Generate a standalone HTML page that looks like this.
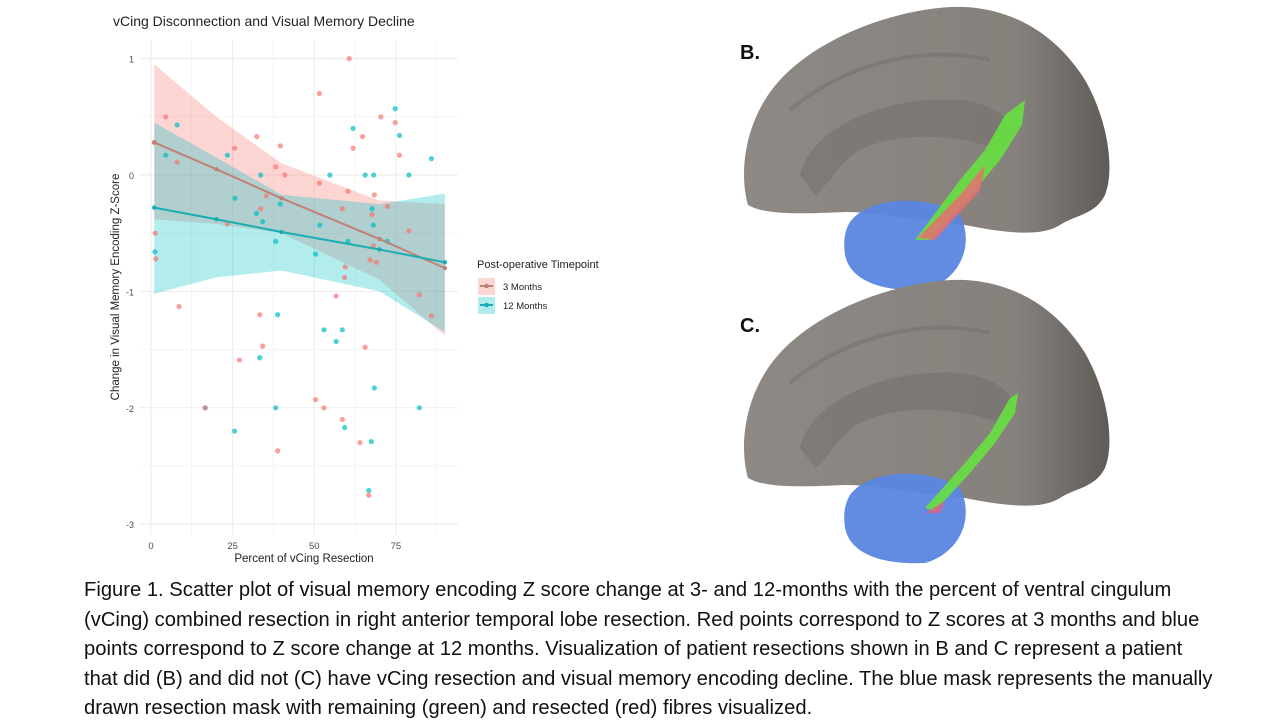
<!DOCTYPE html>
<html><head><meta charset="utf-8"><style>
body{margin:0;width:1280px;height:720px;background:#fff;overflow:hidden;font-family:"Liberation Sans",sans-serif;position:relative}
#cap{position:absolute;left:84px;top:576px;font-size:20.2px;line-height:29.5px;color:#111;white-space:nowrap}
.lab{position:absolute;font-weight:bold;font-size:20px;color:#111}
</style></head><body>
<svg width="1280" height="570" style="position:absolute;left:0;top:0">
<defs><linearGradient id="g" x1="0" x2="1" y1="0" y2="0"><stop offset="0" stop-color="#8e8984"/><stop offset="0.75" stop-color="#86817c"/><stop offset="1" stop-color="#5f5b57"/></linearGradient></defs>
<g id="brainB">
<path d="M748,205 C738,170 745,110 790,70 C840,25 920,5 965,7 C1020,10 1060,40 1085,80 C1108,120 1115,170 1105,195 C1095,215 1075,215 1060,225 C1040,238 1000,232 965,225 C920,222 880,212 845,212 C800,214 765,215 748,205Z" fill="url(#g)"/>
<path d="M800,175 C810,130 880,95 960,100 C1010,105 1030,140 1000,150 C960,135 900,130 860,150 C835,165 830,185 815,195Z" fill="#6e6a66" opacity=".45"/>
<path d="M790,110 C850,60 930,45 990,60" fill="none" stroke="#6e6a66" stroke-width="4" opacity=".4"/>
<path d="M850,222 C870,195 930,195 960,215 C975,245 960,280 925,290 C880,292 850,280 845,255 C843,240 845,230 850,222Z" fill="#5a86e0" opacity=".95"/>
<path d="M915,240 L960,180 L985,150 L1005,115 L1025,100 L1022,125 L1000,160 L975,190 L930,240Z" fill="#66e040" opacity=".9"/>
<path d="M918,238 L960,195 L985,165 L980,190 L935,240Z" fill="#e87070" opacity=".85"/>
</g>
<g transform="translate(0,273)">
<path d="M748,205 C738,170 745,110 790,70 C840,25 920,5 965,7 C1020,10 1060,40 1085,80 C1108,120 1115,170 1105,195 C1095,215 1075,215 1060,225 C1040,238 1000,232 965,225 C920,222 880,212 845,212 C800,214 765,215 748,205Z" fill="url(#g)"/>
<path d="M800,175 C810,130 880,95 960,100 C1010,105 1030,140 1000,150 C960,135 900,130 860,150 C835,165 830,185 815,195Z" fill="#6e6a66" opacity=".45"/>
<path d="M790,110 C850,60 930,45 990,60" fill="none" stroke="#6e6a66" stroke-width="4" opacity=".4"/>
<path d="M850,222 C870,195 930,195 960,215 C975,245 960,280 925,290 C880,292 850,280 845,255 C843,240 845,230 850,222Z" fill="#5a86e0" opacity=".95"/>
<path d="M925,235 L965,190 L990,160 L1010,125 L1018,120 L1015,140 L995,170 L970,200 L935,238Z" fill="#66e040" opacity=".9"/>
<path d="M925,240 L945,228 L940,240Z" fill="#e06080" opacity=".8"/>
</g>
</svg>
<svg id="chart" width="640" height="570" style="position:absolute;left:0;top:0" xmlns="http://www.w3.org/2000/svg"></svg>
<div class="lab" style="left:740px;top:42px">B.</div>
<div class="lab" style="left:740px;top:315px">C.</div>
<div id="cap">Figure 1. Scatter plot of visual memory encoding Z score change at 3- and 12-months with the percent of ventral cingulum<br>(vCing) combined resection in right anterior temporal lobe resection. Red points correspond to Z scores at 3 months and blue<br>points correspond to Z score change at 12 months. Visualization of patient resections shown in B and C represent a patient<br>that did (B) and did not (C) have vCing resection and visual memory encoding decline. The blue mask represents the manually<br>drawn resection mask with remaining (green) and resected (red) fibres visualized.</div>
<script>
const redX=[1,4.5,32.4,25.6,39.6,38.2,41,51.6,60.7,64.8,61.9,70.4,74.8,76.1,51.6,60.3,68.4,72.4,79,1.3,1.5,8,23.4,33.6,35.3,58.6,67.7,68.1,67.1,69,59.5,59.3,56.7,82.2,8.6,33.3,34.2,27.1,65.6,85.9,50.4,53,58.6,64,38.8,66.7,16.6];
const redY=[0.28,0.5,0.33,0.23,0.25,0.07,0,0.70,1.0,0.33,0.23,0.5,0.45,0.17,-0.07,-0.14,-0.17,-0.27,-0.48,-0.5,-0.72,0.11,-0.42,-0.29,-0.18,-0.29,-0.34,-0.61,-0.73,-0.75,-0.79,-0.88,-1.04,-1.03,-1.13,-1.2,-1.47,-1.59,-1.48,-1.21,-1.93,-2.0,-2.1,-2.3,-2.37,-2.75,-2.0];
const blueX=[1.2,4.5,8,23.4,33.6,25.7,32.3,34.2,39.6,38.2,54.8,51.7,50.4,61.9,65.6,68.2,74.8,76.1,79,85.9,60.3,67.7,68.1,72.4,38.8,53,58.6,56.7,33.3,68.4,16.6,38.2,82.2,25.6,59.3,67.5,66.7];
const blueY=[-0.66,0.17,0.43,0.17,0,-0.2,-0.33,-0.4,-0.25,-0.57,0,-0.43,-0.68,0.4,0,0,0.57,0.34,0,0.14,-0.57,-0.29,-0.43,-0.57,-1.2,-1.33,-1.33,-1.43,-1.57,-1.83,-2,-2,-2,-2.2,-2.17,-2.29,-2.71];
const fitX=[1,20,40,70,90];
const redFit=[0.28,0.05,-0.2,-0.55,-0.8];
const redUp=[0.95,0.5,0.1,-0.22,-0.25];
const redLo=[-0.38,-0.42,-0.5,-0.9,-1.38];
const blueFit=[-0.28,-0.38,-0.49,-0.64,-0.75];
const blueUp=[0.45,0.15,-0.17,-0.25,-0.16];
const blueLo=[-1.02,-0.88,-0.82,-1.0,-1.35];
const xTicks=[0,25,50,75];
const yTicks=[1,0,-1,-2,-3];
const NS="http://www.w3.org/2000/svg";
const svg=document.getElementById('chart');
const X=v=>151+v*3.265, Y=v=>175-v*116.4;
function mk(t,a,p){const e=document.createElementNS(NS,t);for(const k in a)e.setAttribute(k,a[k]);(p||svg).appendChild(e);return e;}
for(let v=-3;v<=1;v+=0.5){const g=mk('line',{x1:140,x2:458,y1:Y(v),y2:Y(v),stroke:'#ebebeb','stroke-width':v%1?0.5:1});

}
for(let v=0;v<=87.5;v+=12.5){const g=mk('line',{x1:X(v),x2:X(v),y1:40,y2:535,stroke:'#ebebeb','stroke-width':v%25?0.5:1});

}
yTicks.forEach(v=>{const t=mk('text',{x:134,y:Y(v)+4,'text-anchor':'end','font-size':9,fill:'#4d4d4d'});t.textContent=v;

});
xTicks.forEach(v=>{const t=mk('text',{x:X(v),y:549,'text-anchor':'middle','font-size':9.5,fill:'#4d4d4d'});t.textContent=v;

});
function band(up,lo,col,name){let d='M'+fitX.map((x,i)=>X(x)+','+Y(up[i])).join('L')+'L'+fitX.slice().reverse().map((x,i)=>X(x)+','+Y(lo[lo.length-1-i])).join('L')+'Z';
const p=mk('path',{d:d,fill:col,opacity:0.3});

}
band(redUp,redLo,'#f8766d','ci-band-3-months');
band(blueUp,blueLo,'#00bfc4','ci-band-12-months');
function pts(xs,ys,col,name){xs.forEach((x,i)=>{const c=mk('circle',{cx:X(x),cy:Y(ys[i]),r:2.6,fill:col,opacity:0.7});

});}
pts(blueX,blueY,'#00bfc4','point-12-months');
pts(redX,redY,'#f8766d','point-3-months');
function line(ys,col,name){const l=mk('polyline',{points:fitX.map((x,i)=>X(x)+','+Y(ys[i])).join(' '),fill:'none',stroke:col,'stroke-width':2});


fitX.forEach((x,i)=>{const c=mk('circle',{cx:X(x),cy:Y(ys[i]),r:2.2,fill:col});

});}
line(redFit,'#c08078','fit-line-3-months');
line(blueFit,'#1aaeb2','fit-line-12-months');
let t=mk('text',{x:113,y:26,'font-size':14,fill:'#222'});t.textContent='vCing Disconnection and Visual Memory Decline';


t=mk('text',{x:304,y:562,'text-anchor':'middle','font-size':11.5,fill:'#222'});t.textContent='Percent of vCing Resection';


t=mk('text',{x:0,y:0,'text-anchor':'middle','font-size':11.5,fill:'#222',transform:'translate(119,287) rotate(-90)'});t.textContent='Change in Visual Memory Encoding Z-Score';


t=mk('text',{x:477,y:268,'font-size':11,fill:'#222'});t.textContent='Post-operative Timepoint';


[['3 Months','#f8766d','#c08078',286],['12 Months','#00bfc4','#1aaeb2',305]].forEach(([lab,c,lc,y])=>{
const r=mk('rect',{x:478,y:y-8,width:17,height:17,fill:c,opacity:0.3});


mk('line',{x1:480,x2:493,y1:y,y2:y,stroke:lc,'stroke-width':2});
mk('circle',{cx:486.5,cy:y,r:2.3,fill:lc});
const tx=mk('text',{x:503,y:y+4,'font-size':9.5,fill:'#222'});tx.textContent=lab;

});
</script>
</body></html>
